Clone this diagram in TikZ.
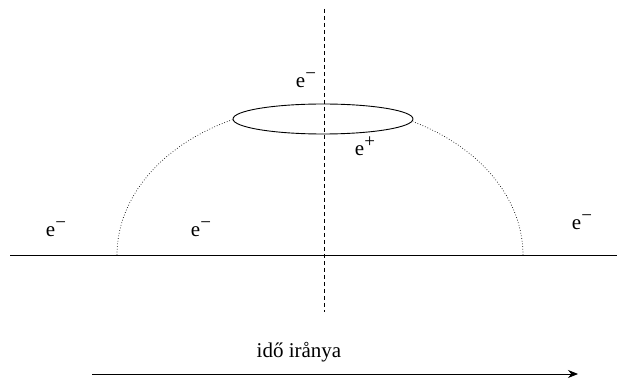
\documentclass[tikz,border=0pt]{standalone}
\usepackage{fontspec}
\setmainfont{Liberation Serif}
\usetikzlibrary{shapes.geometric,arrows.meta}
\newcommand{\supm}[1]{\raisebox{8.5pt}{\fontsize{19}{19}\selectfont #1}}
\begin{document}
\begin{tikzpicture}[x=1pt,y=-1pt,
  lbl/.style={inner sep=0pt,font=\fontsize{21}{25}\selectfont},
  solidline/.style={line width=0.9pt},
  dotline/.style={line width=0.7pt,dash pattern=on 0.7pt off 2pt},
  dashline/.style={line width=0.9pt,dash pattern=on 4pt off 3pt}]
\useasboundingbox (0,0) rectangle (619,382);
% horizontal world line
\coordinate (hl) at (10,255);
\coordinate (hr) at (617,255);
\draw[solidline] (hl) -- (hr);
% vertical dashed line
\coordinate (vt) at (324,9);
\coordinate (vb) at (324,312);
\draw[dashline] (vt) -- (vb);
% loop
\node[ellipse,draw,solidline,minimum width=180pt,minimum height=30pt,inner sep=0pt] (loop) at (323,119) {};
% dotted arcs
\coordinate (al) at (117,255);
\coordinate (ar) at (523,255);
\draw[dotline] (al) arc[start angle=180,end angle=244.6,x radius=203,y radius=150];
\draw[dotline] (ar) arc[start angle=360,end angle=297.3,x radius=203,y radius=150];
% labels
\node[lbl] (etop) at (306,80) {e\supm{−}};
\node[lbl] (epos) at (365,146) {e\supm{+}};
\node[lbl] (eleft) at (56,229) {e\supm{−}};
\node[lbl] (emid) at (201,229) {e\supm{−}};
\node[lbl] (eright) at (582,222) {e\supm{−}};
% time arrow
\node[lbl] (time) at (299,352) {idő irånya};
\coordinate (ta) at (92,374);
\coordinate (tb) at (578,374);
\draw[solidline,-{Stealth[length=10pt,width=8pt]}] (ta) -- (tb);
\end{tikzpicture}
\end{document}
